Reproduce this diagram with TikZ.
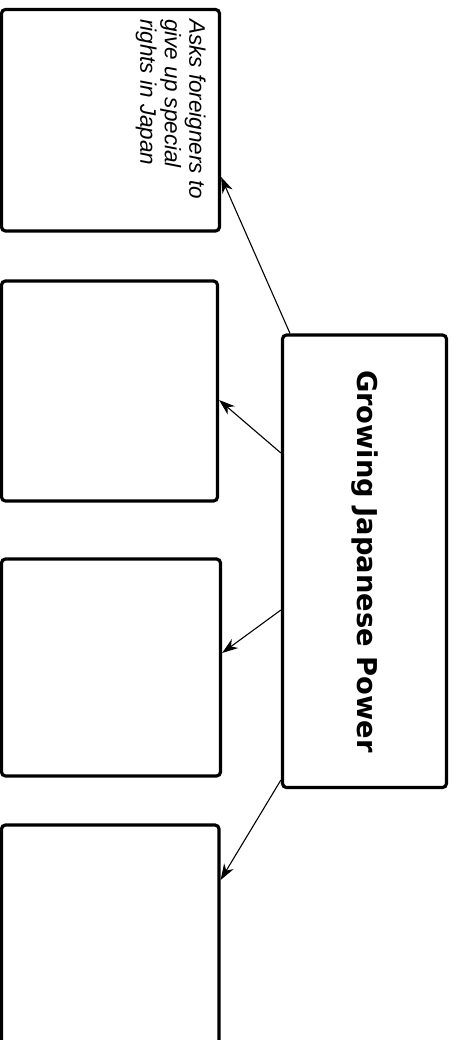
\documentclass[tikz,border=0pt]{standalone}
\usepackage{fontspec}
\newfontfamily\titlefont{DejaVu Sans}
\newfontfamily\handfont{Liberation Sans}
\usetikzlibrary{arrows.meta}
\begin{document}
\begin{tikzpicture}[x=1pt,y=1pt,
  card/.style={draw=black, line width=3.2pt, rounded corners=4pt, fill=white, inner sep=0pt},
  link/.style={line width=1.1pt, -{Stealth[length=16pt,width=11pt,inset=5pt]}}]
\useasboundingbox (0,0) rectangle (456,-1040);
\clip (0,0) rectangle (456,-1040);
\fill[white] (0,0) rectangle (456,-1040);
\node[card, minimum width=218pt, minimum height=221.5pt] (b1) at (110.5,-120.25) {};
\node[card, minimum width=216pt, minimum height=220pt] (b2) at (109.5,-391) {};
\node[card, minimum width=219pt, minimum height=217pt] (b3) at (111,-667.5) {};
\node[card, minimum width=217.5pt, minimum height=220pt] (b4) at (110.25,-935) {};
\node[card, minimum width=164pt, minimum height=452.5pt] (c) at (364.5,-561.25) {};
\node[rotate=-90, inner sep=0pt, font=\titlefont\bfseries\fontsize{27.3}{30}\selectfont] (title) at (c.center)
  {Growing Japanese Power};
\node[rotate=-90, anchor=north west, inner sep=0pt, align=left,
  font=\handfont\itshape\fontsize{22.5}{24.5}\selectfont] (t1) at (206,-19)
  {Asks foreigners to\\give up special\\rights in Japan};
\draw[link] ([xshift=-74.5pt]c.north) -- ([yshift=-56.75pt]b1.east);
\draw[link] ([yshift=108.25pt]c.west) -- ([yshift=-9pt]b2.east);
\draw[link] ([yshift=-48.75pt]c.west) -- ([yshift=14.5pt]b3.east);
\draw[link] ([yshift=-218.75pt]c.west) -- ([yshift=55pt]b4.east);
\end{tikzpicture}
\end{document}
